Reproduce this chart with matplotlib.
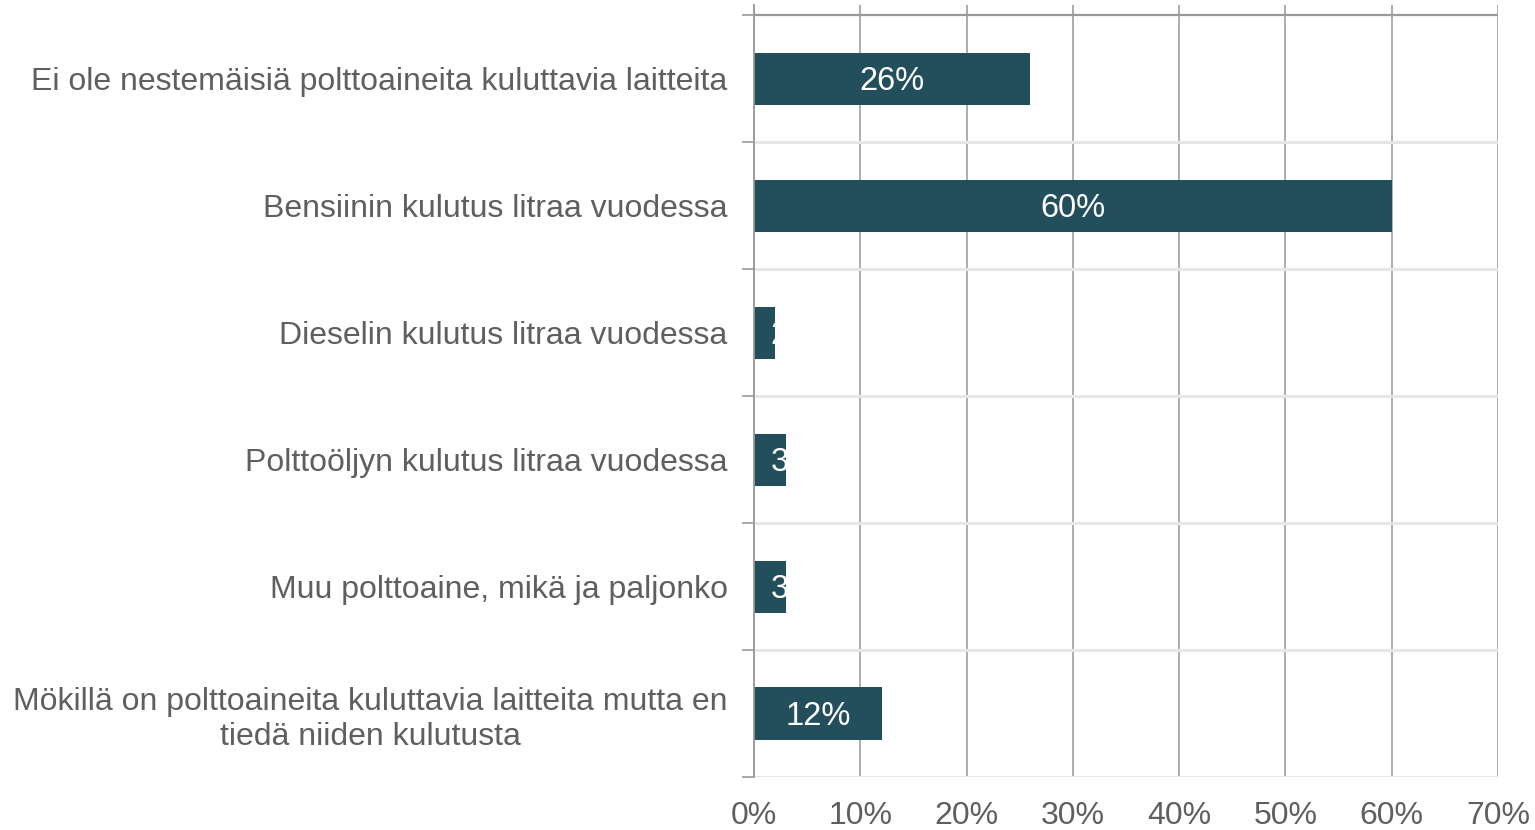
import matplotlib.pyplot as plt
import numpy as np

plt.rcParams['font.family'] = ['Liberation Sans', 'DejaVu Sans']

# data
categories = [
    'Ei ole nestemäisiä polttoaineita kuluttavia laitteita',
    'Bensiinin kulutus litraa vuodessa',
    'Dieselin kulutus litraa vuodessa',
    'Polttoöljyn kulutus litraa vuodessa',
    'Muu polttoaine, mikä ja paljonko',
    'Mökillä on polttoaineita kuluttavia laitteita mutta en\ntiedä niiden kulutusta',
]
values = [26, 60, 2, 3, 3, 12]
xticks = [0, 10, 20, 30, 40, 50, 60, 70]

bar_color = '#234e5c'
text_gray = '#5f5f5f'

fig = plt.figure(figsize=(15.35, 8.3), dpi=100)
ax = fig.add_axes([754 / 1535, 1 - 777 / 830, 744 / 1535, 772 / 830])

y = np.arange(len(categories))
bars = ax.barh(y, values, height=0.41, color=bar_color, zorder=3)

ax.set_xlim(0, 70)
ax.set_ylim(len(categories) - 0.5, -0.58)

# vertical grid
ax.set_xticks(xticks)
ax.set_xticklabels([f'{t}%' for t in xticks], fontsize=23, color=text_gray)
ax.xaxis.grid(True, color='#a6a6a6', linewidth=1.3, zorder=1)
ax.tick_params(axis='x', length=0, pad=17)

# horizontal separators between categories
bounds = np.arange(-0.5, len(categories), 1.0)
for b in bounds:
    c = '#999999' if b < 0 else '#e6e6e6'
    ax.axhline(b, color=c, linewidth=1.6 if b < 0 else 2.2, zorder=2)

# category labels and boundary ticks
ax.set_yticks(y)
ax.set_yticklabels(categories, fontsize=23, color=text_gray, ha='right')
ax.set_yticks(bounds, minor=True)
ax.tick_params(axis='y', which='major', length=0, pad=19)
ax.tick_params(axis='y', which='minor', length=9, color='#999999', width=1.2)
for lbl in ax.get_yticklabels():
    lbl.set_multialignment('center')

for s in ['top', 'right', 'bottom']:
    ax.spines[s].set_visible(False)
ax.spines['left'].set_color('#999999')
ax.spines['left'].set_linewidth(1.3)
ax.spines['left'].set_zorder(4)

# value labels inside bars, clipped to the bar
for bar, v in zip(bars, values):
    cy = bar.get_y() + bar.get_height() / 2
    if v < 6:
        t = ax.annotate(f'{v}%', (0, cy), xytext=(12, -2), textcoords='offset points',
                        ha='left', va='center', color='white', fontsize=23.5, zorder=5)
    else:
        t = ax.annotate(f'{v}%', (v / 2, cy), xytext=(0, -2), textcoords='offset points',
                        ha='center', va='center', color='white', fontsize=23.5, zorder=5)
    t.set_clip_path(bar)

fig.savefig('out.png', dpi=100)
